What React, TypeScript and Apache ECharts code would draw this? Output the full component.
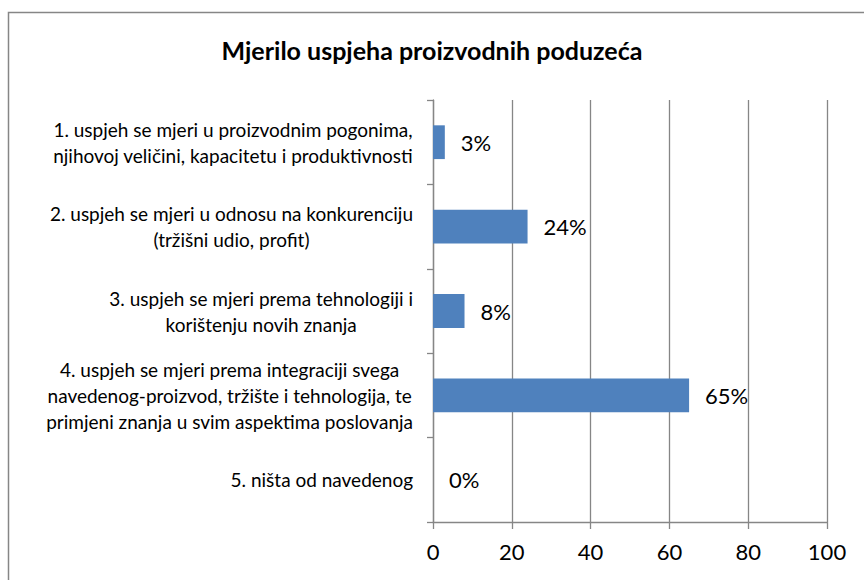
import React, { useEffect, useRef } from "react";
import * as echarts from "echarts";

const categories: string[] = [
  "1. uspjeh se mjeri u proizvodnim pogonima,\nnjihovoj veličini, kapacitetu i produktivnosti",
  "2. uspjeh se mjeri u odnosu na konkurenciju\n(tržišni udio, profit)",
  "3. uspjeh se mjeri prema tehnologiji i\nkorištenju novih znanja",
  "4. uspjeh se mjeri prema integraciji svega\nnavedenog-proizvod, tržište i tehnologija, te\nprimjeni znanja u svim aspektima poslovanja",
  "5. ništa od navedenog",
];
const values: number[] = [3, 24, 8, 65, 0];
const titleText = "Mjerilo uspjeha proizvodnih poduzeća";

const GRAY = "#868686";
const FONT = "Lato";

export default function App() {
  const ref = useRef<HTMLDivElement>(null);
  useEffect(() => {
    if (!ref.current) return;
    const chart = echarts.init(ref.current, undefined, { renderer: "svg" });
    chart.setOption({
      animation: false,
      backgroundColor: "#ffffff",
      title: {
        text: titleText,
        left: "center",
        top: 32,
        textStyle: { fontFamily: FONT, fontSize: 25, fontWeight: "bold", color: "#000" },
      },
      graphic: [
        {
          type: "rect",
          shape: { x: 8.5, y: 12.5, width: 900, height: 600 },
          style: { fill: "none", stroke: GRAY, lineWidth: 1.5 },
          silent: true,
        },
      ],
      grid: { left: 433, right: 37, top: 100, bottom: 58 },
      xAxis: {
        type: "value",
        min: 0,
        max: 100,
        interval: 20,
        axisLine: { show: true, lineStyle: { color: GRAY, width: 1.3 } },
        axisTick: { show: true, length: 7, lineStyle: { color: GRAY, width: 1.3 } },
        splitLine: { show: true, lineStyle: { color: GRAY, width: 1.3 } },
        axisLabel: { fontFamily: FONT, fontSize: 22, color: "#000", margin: 18 },
      },
      yAxis: {
        type: "category",
        inverse: true,
        data: categories,
        axisLine: { show: true, lineStyle: { color: GRAY, width: 1.3 } },
        axisTick: { show: true, length: 6, alignWithLabel: false, lineStyle: { color: GRAY, width: 1.3 } },
        splitLine: { show: false },
        axisLabel: {
          fontFamily: FONT,
          fontSize: 19,
          color: "#000",
          margin: 20,
          lineHeight: 26,
          formatter: (v: string) =>
            v
              .split("\n")
              .map((l) => `{c|${l}}`)
              .join("\n"),
          rich: {
            c: { align: "center", fontFamily: FONT, fontSize: 19, color: "#000", lineHeight: 26 },
          },
        },
      },
      series: [
        {
          type: "bar",
          data: values,
          barCategoryGap: "60%",
          itemStyle: { color: "#4F81BD" },
          label: {
            show: true,
            position: "right",
            distance: 16,
            formatter: "{c}%",
            fontFamily: FONT,
            fontSize: 22,
            color: "#000",
          },
        },
      ],
    });
    return () => chart.dispose();
  }, []);
  return (
    <div
      ref={ref}
      style={{ position: "absolute", left: 0, top: 0, width: 864, height: 580 }}
    />
  );
}
